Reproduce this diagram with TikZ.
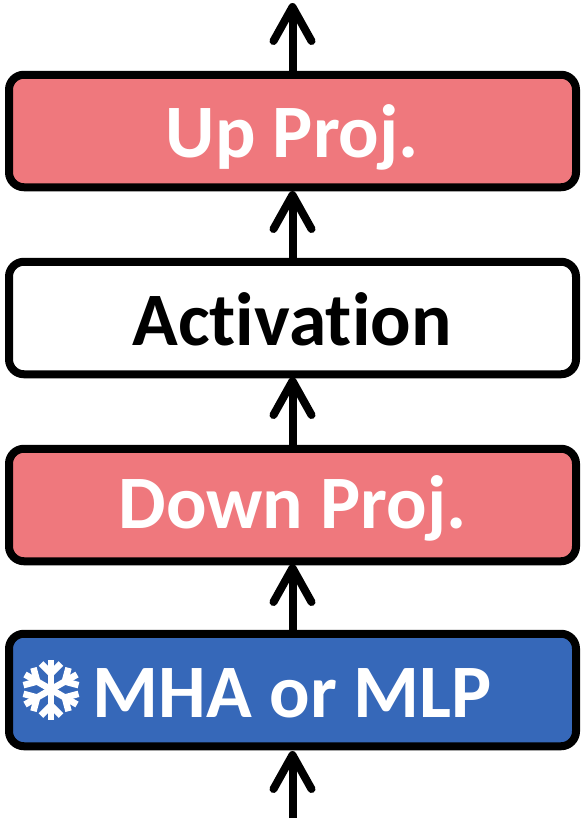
\documentclass[tikz,border=0pt]{standalone}
\usepackage{fontspec}
\setmainfont[Ligatures=NoCommon]{Carlito}
\usetikzlibrary{arrows.meta}
\definecolor{pinkbox}{RGB}{239,120,125}
\definecolor{bluebox}{RGB}{54,104,185}
\tikzset{
  x=1pt,y=-1pt,
  blockbox/.style={draw=black,line width=8pt,rounded corners=15pt,minimum width=567pt,minimum height=112.5pt,inner sep=0pt,anchor=center},
  blocktext/.style={font=\bfseries\fontsize{75.5}{75.5}\selectfont,inner sep=0pt},
  flow/.style={line width=8pt,-{Straight Barb[length=34pt,width=38pt,round]}},
  flake/.style={white,line width=6.5pt}
}
\begin{document}
\begin{tikzpicture}
\useasboundingbox (0,0) rectangle (582,822);
\node[blockbox,fill=pinkbox] (up) at (292.5,131) {};
\node[blocktext,text=white] (uptext) at (292.5,137) {Up Proj.};
\node[blockbox,fill=white] (act) at (292.5,318) {};
\node[blocktext,text=black] (acttext) at (292,319.5) {Activation};
\node[blockbox,fill=pinkbox] (down) at (292.5,505) {};
\node[blocktext,text=white] (downtext) at (292.5,508) {Down Proj.};
\node[blockbox,fill=bluebox] (mha) at (292.5,690) {};
\node[blocktext,text=white] (mhatext) at (292.5,693) {MHA or MLP};
\coordinate (top) at (292.5,3);
\coordinate (bottom) at (292.5,818);
\draw[flow] (bottom) -- (292.5,751);
\draw[flow] (mha.north) -- (292.5,564);
\draw[flow] (down.north) -- (292.5,377);
\draw[flow] (act.north) -- (292.5,191);
\draw[flow] (up.north) -- (top);
\begin{scope}[shift={(51,689.5)}]
\foreach \a in {0,60,...,300}{
  \begin{scope}[rotate=\a]
    \draw[flake] (0,0) -- (0,-30);
    \draw[flake] (0,-16) -- (-10,-26);
    \draw[flake] (0,-16) -- (10,-26);
  \end{scope}
}
\end{scope}
\end{tikzpicture}
\end{document}
